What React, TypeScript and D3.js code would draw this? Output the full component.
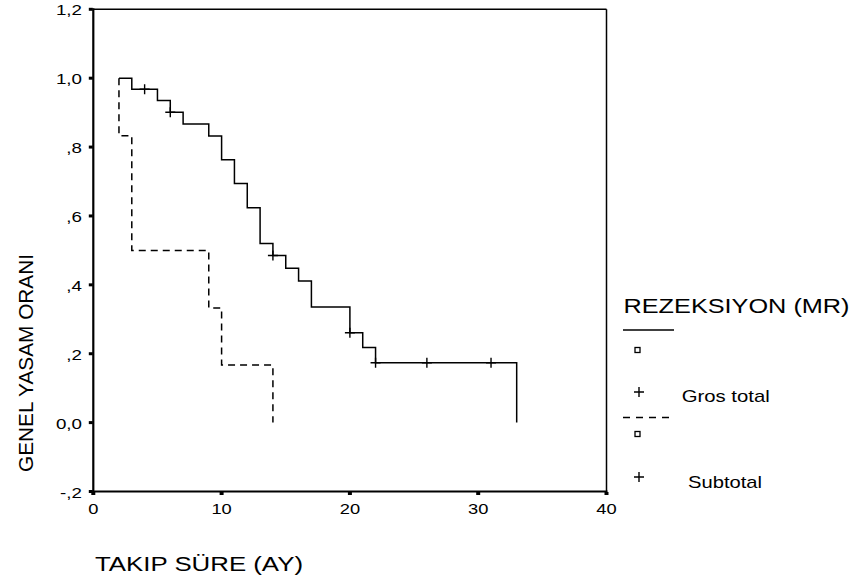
import React from "react";
import * as d3 from "d3";

// Kaplan–Meier survival steps, resection group "Gros total"
const grosTimes = [2, 3, 5, 6, 7, 9, 10, 11, 12, 13, 14, 15, 16, 17, 20, 21, 22, 33];
const grosSurvival = [1.0, 0.968, 0.935, 0.901, 0.867, 0.832, 0.763, 0.694, 0.624, 0.52, 0.485, 0.448, 0.411, 0.336, 0.261, 0.218, 0.174, 0.0];
// censored observations (time, survival at that time)
const grosCensorTimes = [4, 6, 14, 20, 22, 26, 31];
const grosCensorSurvival = [0.968, 0.901, 0.485, 0.261, 0.174, 0.174, 0.174];

// resection group "Subtotal"
const subTimes = [2, 2, 3, 9, 10, 14];
const subSurvival = [1.0, 0.833, 0.5, 0.333, 0.167, 0.0];

const xTicks = [0, 10, 20, 30, 40];
const xTickLabels = ["0", "10", "20", "30", "40"];
const yTicks = [-0.2, 0, 0.2, 0.4, 0.6, 0.8, 1.0, 1.2];
const yTickLabels = ["-,2", "0,0", ",2", ",4", ",6", ",8", "1,0", "1,2"];

const legendTitle = "REZEKSIYON (MR)";
const groupNames = ["Gros total", "Subtotal"];

const W = 852;
const H = 584;
const FONT = "'Liberation Sans', Arial, sans-serif";

export default function App() {
  const x = d3.scaleLinear().domain([0, 40]).range([93.3, 606.5]);
  const y = d3.scaleLinear().domain([-0.2, 1.2]).range([491.5, 9.3]);

  const step = d3
    .line<[number, number]>()
    .x((d) => x(d[0]))
    .y((d) => y(d[1]))
    .curve(d3.curveStepAfter);

  const grosPts = grosTimes.map((t, i) => [t, grosSurvival[i]] as [number, number]);
  const subPts = subTimes.map((t, i) => [t, subSurvival[i]] as [number, number]);

  const plus = (cx: number, cy: number, s: number, key: string) => (
    <path
      key={key}
      d={`M${cx - s},${cy}H${cx + s}M${cx},${cy - s}V${cy + s}`}
      stroke="#000"
      strokeWidth={1.4}
      fill="none"
    />
  );

  const [x0, x1] = x.range();
  const [yb, yt] = y.range();

  return (
    <svg
      width={W}
      height={H}
      viewBox={`0 0 ${W} ${H}`}
      style={{ position: "fixed", left: 0, top: 0, background: "#fff" }}
    >
      <rect x={0} y={0} width={W} height={H} fill="#fff" />

      {/* frame */}
      <line x1={x0} x2={x1} y1={yt} y2={yt} stroke="#000" strokeWidth={1.5} />
      <line x1={x1} x2={x1} y1={yt} y2={yb} stroke="#000" strokeWidth={1.5} />
      <line x1={x0} x2={x0} y1={yt - 1} y2={yb + 1} stroke="#000" strokeWidth={2.2} />
      <line x1={x0 - 1} x2={x1 + 1} y1={yb} y2={yb} stroke="#000" strokeWidth={2.2} />

      {/* y ticks */}
      {yTicks.map((v, i) => (
        <g key={`yt${i}`}>
          <rect x={x0 - 4.5} y={y(v) - 1.5} width={4} height={3} fill="#000" />
          <g transform={`translate(${82},${y(v) + 6}) scale(1.25,1)`}>
            <text textAnchor="end" fontFamily={FONT} fontSize={15} fill="#000">
              {yTickLabels[i]}
            </text>
          </g>
        </g>
      ))}

      {/* x ticks */}
      {xTicks.map((v, i) => (
        <g key={`xt${i}`}>
          <rect x={x(v) - 2} y={yb + 0.5} width={4} height={3} fill="#000" />
          <g transform={`translate(${x(v)},${514}) scale(1.22,1)`}>
            <text textAnchor="middle" fontFamily={FONT} fontSize={15} fill="#000">
              {xTickLabels[i]}
            </text>
          </g>
        </g>
      ))}

      {/* survival curves */}
      <path d={step(grosPts) ?? ""} fill="none" stroke="#000" strokeWidth={1.5} />
      <path
        d={step(subPts) ?? ""}
        fill="none"
        stroke="#000"
        strokeWidth={1.5}
        strokeDasharray="7,5"
      />
      {grosCensorTimes.map((t, i) =>
        plus(x(t), y(grosCensorSurvival[i]), 5, `c${i}`)
      )}

      {/* axis titles */}
      <text
        x={95}
        y={571}
        fontFamily={FONT}
        fontSize={20}
        textLength={208}
        lengthAdjust="spacingAndGlyphs"
        fill="#000"
      >
        TAKIP SÜRE (AY)
      </text>
      <text
        transform={`translate(33,472) rotate(-90)`}
        fontFamily={FONT}
        fontSize={20}
        textLength={218}
        lengthAdjust="spacingAndGlyphs"
        fill="#000"
      >
        GENEL YASAM ORANI
      </text>

      {/* legend */}
      <text
        x={623.5}
        y={312.5}
        fontFamily={FONT}
        fontSize={21}
        textLength={226}
        lengthAdjust="spacingAndGlyphs"
        fill="#000"
      >
        {legendTitle}
      </text>

      <line x1={623} x2={674} y1={330} y2={330} stroke="#000" strokeWidth={1.5} />
      <rect x={635} y={347.5} width={5} height={5} fill="none" stroke="#000" strokeWidth={1.3} />
      {plus(639, 392, 5, "lp1")}
      <text
        x={681.7}
        y={401.5}
        fontFamily={FONT}
        fontSize={17}
        textLength={88}
        lengthAdjust="spacingAndGlyphs"
        fill="#000"
      >
        {groupNames[0]}
      </text>

      <line
        x1={623}
        x2={674}
        y1={417.5}
        y2={417.5}
        stroke="#000"
        strokeWidth={1.5}
        strokeDasharray="7,6"
      />
      <rect x={635} y={431.5} width={5} height={5} fill="none" stroke="#000" strokeWidth={1.3} />
      {plus(639, 477, 5, "lp2")}
      <text
        x={688}
        y={487.5}
        fontFamily={FONT}
        fontSize={17}
        textLength={74}
        lengthAdjust="spacingAndGlyphs"
        fill="#000"
      >
        {groupNames[1]}
      </text>
    </svg>
  );
}
